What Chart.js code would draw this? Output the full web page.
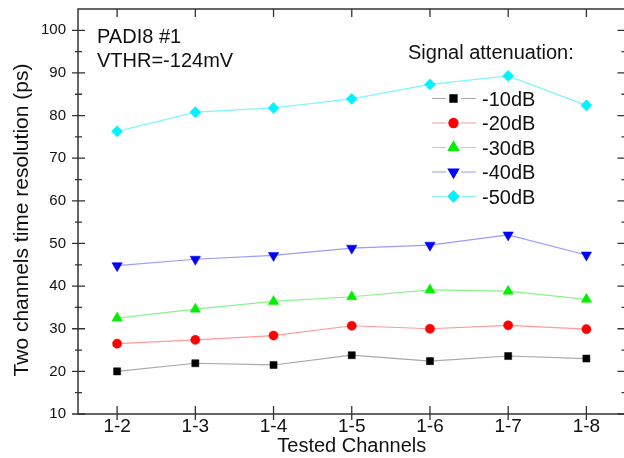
<!DOCTYPE html>
<html>
<head>
<meta charset="utf-8">
<script src="https://cdn.jsdelivr.net/npm/chart.js@4.4.1/dist/chart.umd.min.js"></script>
<style>
html, body { margin: 0; padding: 0; background: #fff; overflow: hidden; }
#wrap { width: 624px; height: 458px; overflow: hidden; position: relative; }
#box { width: 632px; height: 458px; position: absolute; left: 0; top: 0; }
</style>
</head>
<body>
<div id="wrap"><div id="box"><canvas id="c"></canvas></div></div>
<script>
// values (ps)
var channels = ['1-2', '1-3', '1-4', '1-5', '1-6', '1-7', '1-8'];
var res10dB = [20.0, 21.9, 21.5, 23.8, 22.4, 23.6, 23.0];
var res20dB = [26.5, 27.4, 28.4, 30.7, 30.0, 30.8, 29.9];
var res30dB = [32.5, 34.6, 36.4, 37.5, 39.1, 38.8, 36.9];
var res40dB = [44.8, 46.3, 47.2, 48.9, 49.6, 52.0, 47.3];
var res50dB = [76.3, 80.8, 81.8, 83.9, 87.3, 89.3, 82.4];
var seriesNames = ['-10dB', '-20dB', '-30dB', '-40dB', '-50dB'];
var yTicks = [10, 20, 30, 40, 50, 60, 70, 80, 90, 100];
var yMinorTicks = [15, 25, 35, 45, 55, 65, 75, 85, 95];

var FONT = "'Liberation Sans', Arial, sans-serif";
var AXIS = '#333';

function makeSet(name, data, color, line, style, radius, rot) {
	return {
		label: name,
		data: data,
		borderColor: line,
		borderWidth: 1.2,
		backgroundColor: color,
		pointBackgroundColor: color,
		pointBorderColor: color,
		pointBorderWidth: 0.5,
		pointStyle: style,
		pointRadius: radius,
		pointHoverRadius: radius,
		pointRotation: rot,
		tension: 0,
		fill: false
	};
}

var datasets = [
	makeSet(seriesNames[0], res10dB, '#000000', '#a8a8a8', 'rect', 5, 0),
	makeSet(seriesNames[1], res20dB, '#ff0000', '#ff9a9a', 'circle', 4.6, 0),
	makeSet(seriesNames[2], res30dB, '#00f000', '#8ef08e', 'triangle', 6, 0),
	makeSet(seriesNames[3], res40dB, '#0000ff', '#9a9aff', 'triangle', 6, 180),
	makeSet(seriesNames[4], res50dB, '#00f4ff', '#80f4ff', 'rectRot', 5.6, 0)
];

// frame, mirrored ticks, y title, text notes and the legend
var framePlugin = {
	id: 'frame',
	afterDraw: function (chart) {
		var ctx = chart.ctx;
		var a = chart.chartArea;
		var xs = chart.scales.x;
		var ys = chart.scales.y;
		ctx.save();
		ctx.strokeStyle = AXIS;
		ctx.lineWidth = 1.5;
		ctx.beginPath();
		ctx.moveTo(a.left, a.top); ctx.lineTo(a.right, a.top);
		ctx.lineTo(a.right, a.bottom); ctx.lineTo(a.left, a.bottom);
		ctx.closePath();
		ctx.stroke();

		ctx.lineWidth = 1.3;
		ctx.beginPath();
		for (var i = 0; i < yTicks.length; i++) {
			var py = ys.getPixelForValue(yTicks[i]);
			ctx.moveTo(a.left - 6, py); ctx.lineTo(a.left + 7, py);
			ctx.moveTo(a.right - 8, py); ctx.lineTo(a.right, py);
		}
		for (var i = 0; i < yMinorTicks.length; i++) {
			var py = ys.getPixelForValue(yMinorTicks[i]);
			ctx.moveTo(a.left - 3, py); ctx.lineTo(a.left + 4, py);
			ctx.moveTo(a.right - 4, py); ctx.lineTo(a.right, py);
		}
		for (var i = 0; i < channels.length; i++) {
			var px = xs.getPixelForValue(i);
			ctx.moveTo(px, a.bottom + 6); ctx.lineTo(px, a.bottom - 8);
			ctx.moveTo(px, a.top); ctx.lineTo(px, a.top + 8);
		}
		ctx.stroke();

		ctx.fillStyle = '#111';
		ctx.save();
		ctx.translate(22, 220);
		ctx.rotate(-Math.PI / 2);
		ctx.textAlign = 'center';
		ctx.textBaseline = 'middle';
		ctx.font = '21px ' + FONT;
		ctx.fillText('Two channels time resolution (ps)', 0, 0);
		ctx.restore();

		ctx.textAlign = 'left';
		ctx.textBaseline = 'alphabetic';
		ctx.font = '20px ' + FONT;
		ctx.fillText('PADI8 #1', 97, 43);
		ctx.fillText('VTHR=-124mV', 97, 67);
		ctx.fillText('Signal attenuation:', 408, 59);

		var draw = Chart.helpers && Chart.helpers.drawPoint;
		for (var k = 0; k < datasets.length; k++) {
			var ds = datasets[k];
			var cy = 98.5 + k * 24.5;
			ctx.strokeStyle = ds.borderColor;
			ctx.lineWidth = 1.2;
			ctx.beginPath();
			ctx.moveTo(432, cy); ctx.lineTo(446, cy);
			ctx.moveTo(461, cy); ctx.lineTo(476, cy);
			ctx.stroke();
			ctx.fillStyle = ds.pointBackgroundColor;
			ctx.strokeStyle = ds.pointBorderColor;
			if (draw) {
				draw(ctx, { pointStyle: ds.pointStyle, radius: ds.pointRadius, rotation: ds.pointRotation, borderWidth: 0.5 }, 453.5, cy);
			}
			ctx.fillStyle = '#111';
			ctx.font = '20px ' + FONT;
			ctx.textBaseline = 'alphabetic';
			ctx.fillText(ds.label, 482, cy + 7);
		}
		ctx.restore();
	}
};

var chart = new Chart(document.getElementById('c'), {
	type: 'line',
	data: { labels: channels, datasets: datasets },
	options: {
		responsive: true,
		maintainAspectRatio: false,
		animation: false,
		devicePixelRatio: 1,
		layout: { padding: { top: 9, right: 2, left: 0, bottom: 0 } },
		plugins: { legend: { display: false }, tooltip: { enabled: false } },
		scales: {
			x: {
				type: 'category',
				offset: true,
				grid: { display: false, drawTicks: false },
				border: { display: false },
				ticks: { color: '#111', font: { family: FONT, size: 19 }, padding: 1 },
				title: { display: true, text: 'Tested Channels', color: '#111', font: { family: FONT, size: 20 }, padding: { top: 0, bottom: 0 } },
				afterFit: function (s) { s.height = 44; }
			},
			y: {
				min: 10,
				max: 105,
				afterBuildTicks: function (s) { s.ticks = yTicks.map(function (v) { return { value: v }; }); },
				grid: { display: false, drawTicks: true, tickLength: 12 },
				border: { display: false },
				ticks: { color: '#111', font: { family: FONT, size: 15 }, padding: 0 },
				afterFit: function (s) { s.width = 78; }
			}
		}
	},
	plugins: [framePlugin]
});
</script>
</body>
</html>
